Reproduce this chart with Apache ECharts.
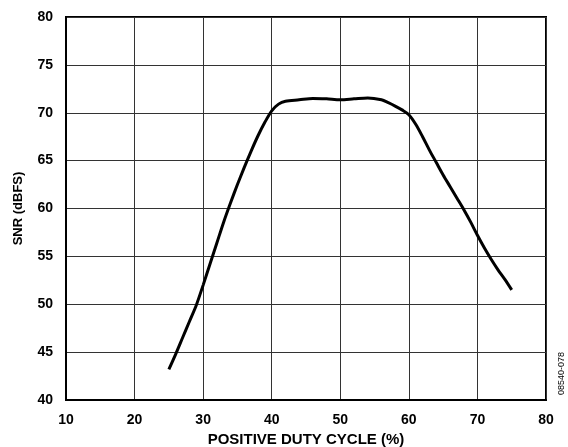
<!DOCTYPE html>
<html>
<head>
<meta charset="utf-8">
<script src="https://cdn.jsdelivr.net/npm/echarts@6/dist/echarts.min.js"></script>
<style>
html,body{margin:0;padding:0;background:#fff;}
#c{width:568px;height:447px;}
</style>
</head>
<body>
<div id="c"></div>
<script>
var dutyCycle = [25, 26, 27, 28, 29, 30, 31, 32, 33, 34, 35, 36, 37, 38, 39, 40, 41, 42, 44, 46, 48, 50, 52, 54, 56, 57, 58, 59, 60, 61, 62, 63, 64, 65, 66, 67, 68, 69, 70, 71, 72, 73, 74, 75];
var snr = [43.2, 44.8, 46.5, 48.2, 49.9, 52.0, 54.2, 56.4, 58.6, 60.6, 62.5, 64.3, 66.0, 67.6, 69.0, 70.2, 70.9, 71.2, 71.35, 71.5, 71.45, 71.35, 71.45, 71.55, 71.35, 71.05, 70.7, 70.3, 69.8, 68.8, 67.5, 66.1, 64.8, 63.5, 62.3, 61.1, 59.9, 58.6, 57.2, 55.9, 54.7, 53.6, 52.6, 51.5];
var xTicks = [10, 20, 30, 40, 50, 60, 70, 80];
var yTicks = [40, 45, 50, 55, 60, 65, 70, 75, 80];

var chart = echarts.init(document.getElementById('c'), null, {renderer: 'canvas'});
var font = 'Liberation Sans, Arial, sans-serif';
chart.setOption({
  animation: false,
  backgroundColor: '#fff',
  grid: {left: 66, right: 22, top: 17, bottom: 47, show: true, borderColor: '#000', borderWidth: 2, backgroundColor: 'transparent', outerBoundsMode: 'none', containLabel: false},
  xAxis: {
    type: 'value', min: xTicks[0], max: xTicks[xTicks.length - 1], interval: 10,
    name: 'POSITIVE DUTY CYCLE (%)', nameLocation: 'middle', nameGap: 32,
    nameTextStyle: {fontFamily: font, fontWeight: 'bold', fontSize: 15, color: '#000', verticalAlign: 'top'},
    axisLine: {show: true, lineStyle: {color: '#000', width: 2}},
    axisTick: {show: false},
    axisLabel: {fontFamily: font, fontWeight: 'bold', fontSize: 14, color: '#000', margin: 13},
    splitLine: {show: true, lineStyle: {color: '#333', width: 1}}
  },
  yAxis: {
    type: 'value', min: yTicks[0], max: yTicks[yTicks.length - 1], interval: 5,
    name: 'SNR (dBFS)', nameLocation: 'middle', nameGap: 41,
    nameTextStyle: {fontFamily: font, fontWeight: 'bold', fontSize: 13, color: '#000'},
    axisLine: {show: true, lineStyle: {color: '#000', width: 2}},
    axisTick: {show: false},
    axisLabel: {fontFamily: font, fontWeight: 'bold', fontSize: 14, color: '#000', margin: 13},
    splitLine: {show: true, lineStyle: {color: '#333', width: 1}}
  },
  graphic: [{
    type: 'text', left: 557, top: 352, rotation: Math.PI / 2,
    style: {text: '08540-078', font: '9px ' + font, fill: '#000'}
  }],
  series: [{
    type: 'line',
    data: dutyCycle.map(function (d, i) { return [d, snr[i]]; }),
    showSymbol: false, smooth: 0.3,
    lineStyle: {color: '#000', width: 3},
    z: 5
  }]
});
</script>
</body>
</html>
